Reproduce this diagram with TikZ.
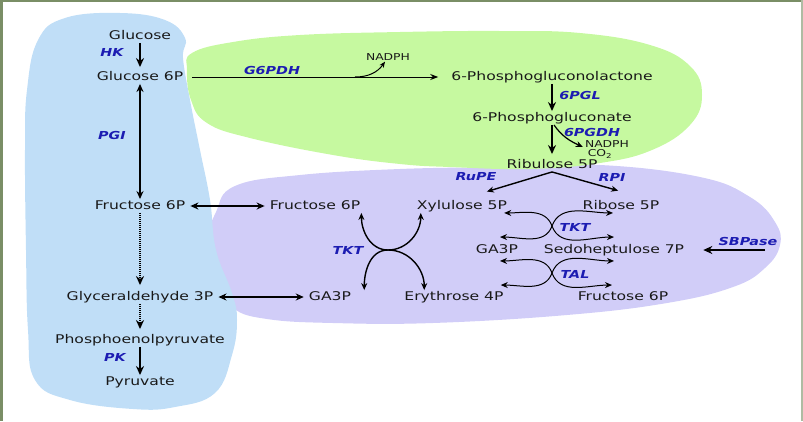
\documentclass[tikz,border=0pt]{standalone}
\usepackage{fontspec}
\setmainfont{DejaVu Sans}[FakeStretch=1.3]
\usetikzlibrary{arrows.meta}
\definecolor{glyco}{RGB}{192,222,247}
\definecolor{oxid}{RGB}{198,249,160}
\definecolor{nonox}{RGB}{209,205,248}
\definecolor{enzblue}{RGB}{28,28,178}
\definecolor{framecol}{RGB}{122,142,102}
\begin{document}
\begin{tikzpicture}[x=1pt, y=1pt,
  met node/.style={font=\fontsize{12}{14}\selectfont, text=black!90, inner sep=1pt, text height=9pt, text depth=2.5pt},
  enz node/.style={font=\fontsize{11}{13}\selectfont\bfseries\itshape, text=enzblue, inner sep=1pt},
  co node/.style={font=\fontsize{9.5}{11}\selectfont, text=black!90, inner sep=0pt},
  main arrow/.style={-{Stealth[length=9pt,width=8pt]}, line width=1.8pt},
  rev arrow/.style={{Stealth[length=8pt,width=7pt]}-{Stealth[length=8pt,width=7pt]}, line width=1.3pt},
  side arrow/.style={-{Stealth[length=7pt,width=6pt]}, line width=1.2pt}]
\useasboundingbox (0,0) rectangle (803,-421);
\fill[framecol] (0,0) rectangle (3,-421);
\fill[framecol] (0,0) rectangle (803,-2);
\fill[framecol!60] (801,0) rectangle (803,-421);
% pathway areas
\fill[nonox] plot[smooth cycle, tension=0.7] coordinates {(235,-186) (300,-175) (400,-169) (500,-167) (600,-165) (700,-177) (750,-197) (775,-222) (780,-245) (765,-268) (733,-287) (667,-303) (567,-315) (433,-323) (333,-323) (267,-319) (233,-308) (217,-283) (208,-243) (216,-212)};
\fill[glyco] plot[smooth cycle, tension=0.7] coordinates {(120,-13) (165,-20) (185,-38) (183,-58) (190,-100) (200,-150) (210,-200) (216,-250) (232,-293) (237,-320) (232,-355) (215,-393) (175,-407) (133,-409) (70,-400) (35,-380) (28,-330) (26,-250) (25,-150) (27,-90) (38,-40) (65,-18)};
\fill[oxid] plot[smooth cycle, tension=0.7] coordinates {(192,-53) (233,-42) (300,-35) (400,-32) (500,-31) (580,-33) (650,-45) (690,-66) (702,-95) (690,-125) (652,-150) (600,-163) (530,-169) (450,-167) (400,-164) (333,-155) (250,-138) (207,-123) (191,-100) (187,-70)};
\begin{scope}[every node/.style={met node}]
\node (glc) at (140,-36) {Glucose};
\node (g6p) at (140,-77) {Glucose 6P};
\node (f6p) at (140,-206) {Fructose 6P};
\node (gap) at (140,-297) {Glyceraldehyde 3P};
\node (pep) at (140,-340) {Phosphoenolpyruvate};
\node (pyr) at (140,-382) {Pyruvate};
\node (pgl) at (552,-77) {6-Phosphogluconolactone};
\node (pgn) at (552,-118) {6-Phosphogluconate};
\node (ru5p) at (552,-165) {Ribulose 5P};
\node (f6pb) at (315,-206) {Fructose 6P};
\node (xu5p) at (462,-206) {Xylulose 5P};
\node (r5p) at (621,-206) {Ribose 5P};
\node (ga3pb) at (330,-297) {GA3P};
\node (e4p) at (454,-297) {Erythrose 4P};
\node (ga3pc) at (497,-250) {GA3P};
\node (s7p) at (614,-250) {Sedoheptulose 7P};
\node (f6pc) at (623,-297) {Fructose 6P};
\end{scope}
\begin{scope}[every node/.style={co node}]
\node (nadph1) at (388,-57) {NADPH};
\node (nadph2) at (607,-144) {NADPH};
\node (co2) at (600,-154) {CO\textsubscript{2}};
\end{scope}
\begin{scope}[every node/.style={enz node}]
\node (hk) at (112,-52) {HK};
\node (pgi) at (112,-135) {PGI};
\node (pk) at (115,-357) {PK};
\node (g6pdh) at (272,-70) {G6PDH};
\node (pglase) at (580,-95) {6PGL};
\node (pgdh) at (592,-132) {6PGDH};
\node (rupe) at (476,-177) {RuPE};
\node (rpi) at (612,-177) {RPI};
\node (tkta) at (348,-250) {TKT};
\node (tktb) at (575,-227) {TKT};
\node (tal) at (575,-274) {TAL};
\node (sbp) at (748,-241) {SBPase};
\end{scope}
\coordinate (nbr) at (355,-77);
\coordinate (crossa) at (388,-250);
\coordinate (crossb) at (552,-226);
\coordinate (crossc) at (552,-273);
\coordinate (sbpin) at (765,-250);
\begin{scope}
% glycolysis
\draw[main arrow, shorten >=3pt] (glc) -- (g6p);
\draw[rev arrow, line width=1.8pt] (g6p) -- (f6p);
\draw[main arrow, dash pattern=on 1.2pt off 0.8pt, shorten >=5pt] (f6p) -- (gap);
\draw[main arrow, dash pattern=on 1.2pt off 0.8pt, shorten >=4pt] (gap) -- (pep);
\draw[main arrow] (pep) -- (pyr);
% oxidative branch
\draw[-{Stealth[length=8pt,width=6pt]}, line width=1pt, shorten <=8pt, shorten >=12pt] (g6p) -- (pgl);
\draw[-{Stealth[length=6pt,width=5pt]}, line width=1pt] (nbr) to[out=0,in=-125] ([xshift=-3pt,yshift=-1pt]nadph1.south);
\draw[main arrow] (pgl) -- (pgn);
\draw[main arrow, shorten >=4pt] (pgn) -- (ru5p);
\draw[side arrow] ([xshift=2pt]pgn.south) to[out=-55,in=155] ([xshift=-2pt,yshift=-3pt]nadph2.west);
\draw[side arrow, line width=1.4pt, shorten >=26pt] (ru5p.south) -- (xu5p.north);
\draw[side arrow, line width=1.4pt, shorten >=31pt] (ru5p.south) -- ([xshift=27pt]r5p.north);
% exchange with glycolysis
\draw[rev arrow, shorten <=4pt, shorten >=4pt] (f6p) -- (f6pb);
\draw[rev arrow, shorten <=4pt, shorten >=4pt] (gap) -- (ga3pb);
% transketolase / transaldolase
\draw[side arrow, line width=1.4pt] (crossa) to[out=180,in=-90] (f6pb.south east);
\draw[side arrow, line width=1.4pt] (crossa) to[out=0,in=-90] ([xshift=5pt]xu5p.south west);
\draw[side arrow, line width=1.4pt] (crossa) to[out=180,in=90] ([xshift=12pt]ga3pb.north east);
\draw[side arrow, line width=1.4pt] (crossa) to[out=0,in=90] ([xshift=21pt]e4p.north west);
\draw[side arrow, line width=1pt] (crossb) to[out=110,in=0] ([xshift=-4pt]xu5p.south east);
\draw[side arrow, line width=1pt] (crossb) to[out=-110,in=0] ([shift={(3pt,6pt)}]ga3pc.north);
\draw[side arrow, line width=1pt] (crossb) to[out=70,in=180] ([xshift=-8pt]r5p.south);
\draw[side arrow, line width=1pt] (crossb) to[out=-70,in=180] ([yshift=6pt]s7p.north);
\draw[side arrow, line width=1pt] (crossc) to[out=110,in=0] ([shift={(3pt,-4pt)}]ga3pc.south);
\draw[side arrow, line width=1pt] (crossc) to[out=-110,in=0] ([shift={(-4pt,5pt)}]e4p.north east);
\draw[side arrow, line width=1pt] (crossc) to[out=70,in=180] ([yshift=-4pt]s7p.south);
\draw[side arrow, line width=1pt] (crossc) to[out=-70,in=180] ([shift={(-11pt,5pt)}]f6pc.north);
\draw[main arrow, line width=1.5pt, shorten >=18pt] (sbpin) -- (s7p.east);
\end{scope}
\end{tikzpicture}
\end{document}
